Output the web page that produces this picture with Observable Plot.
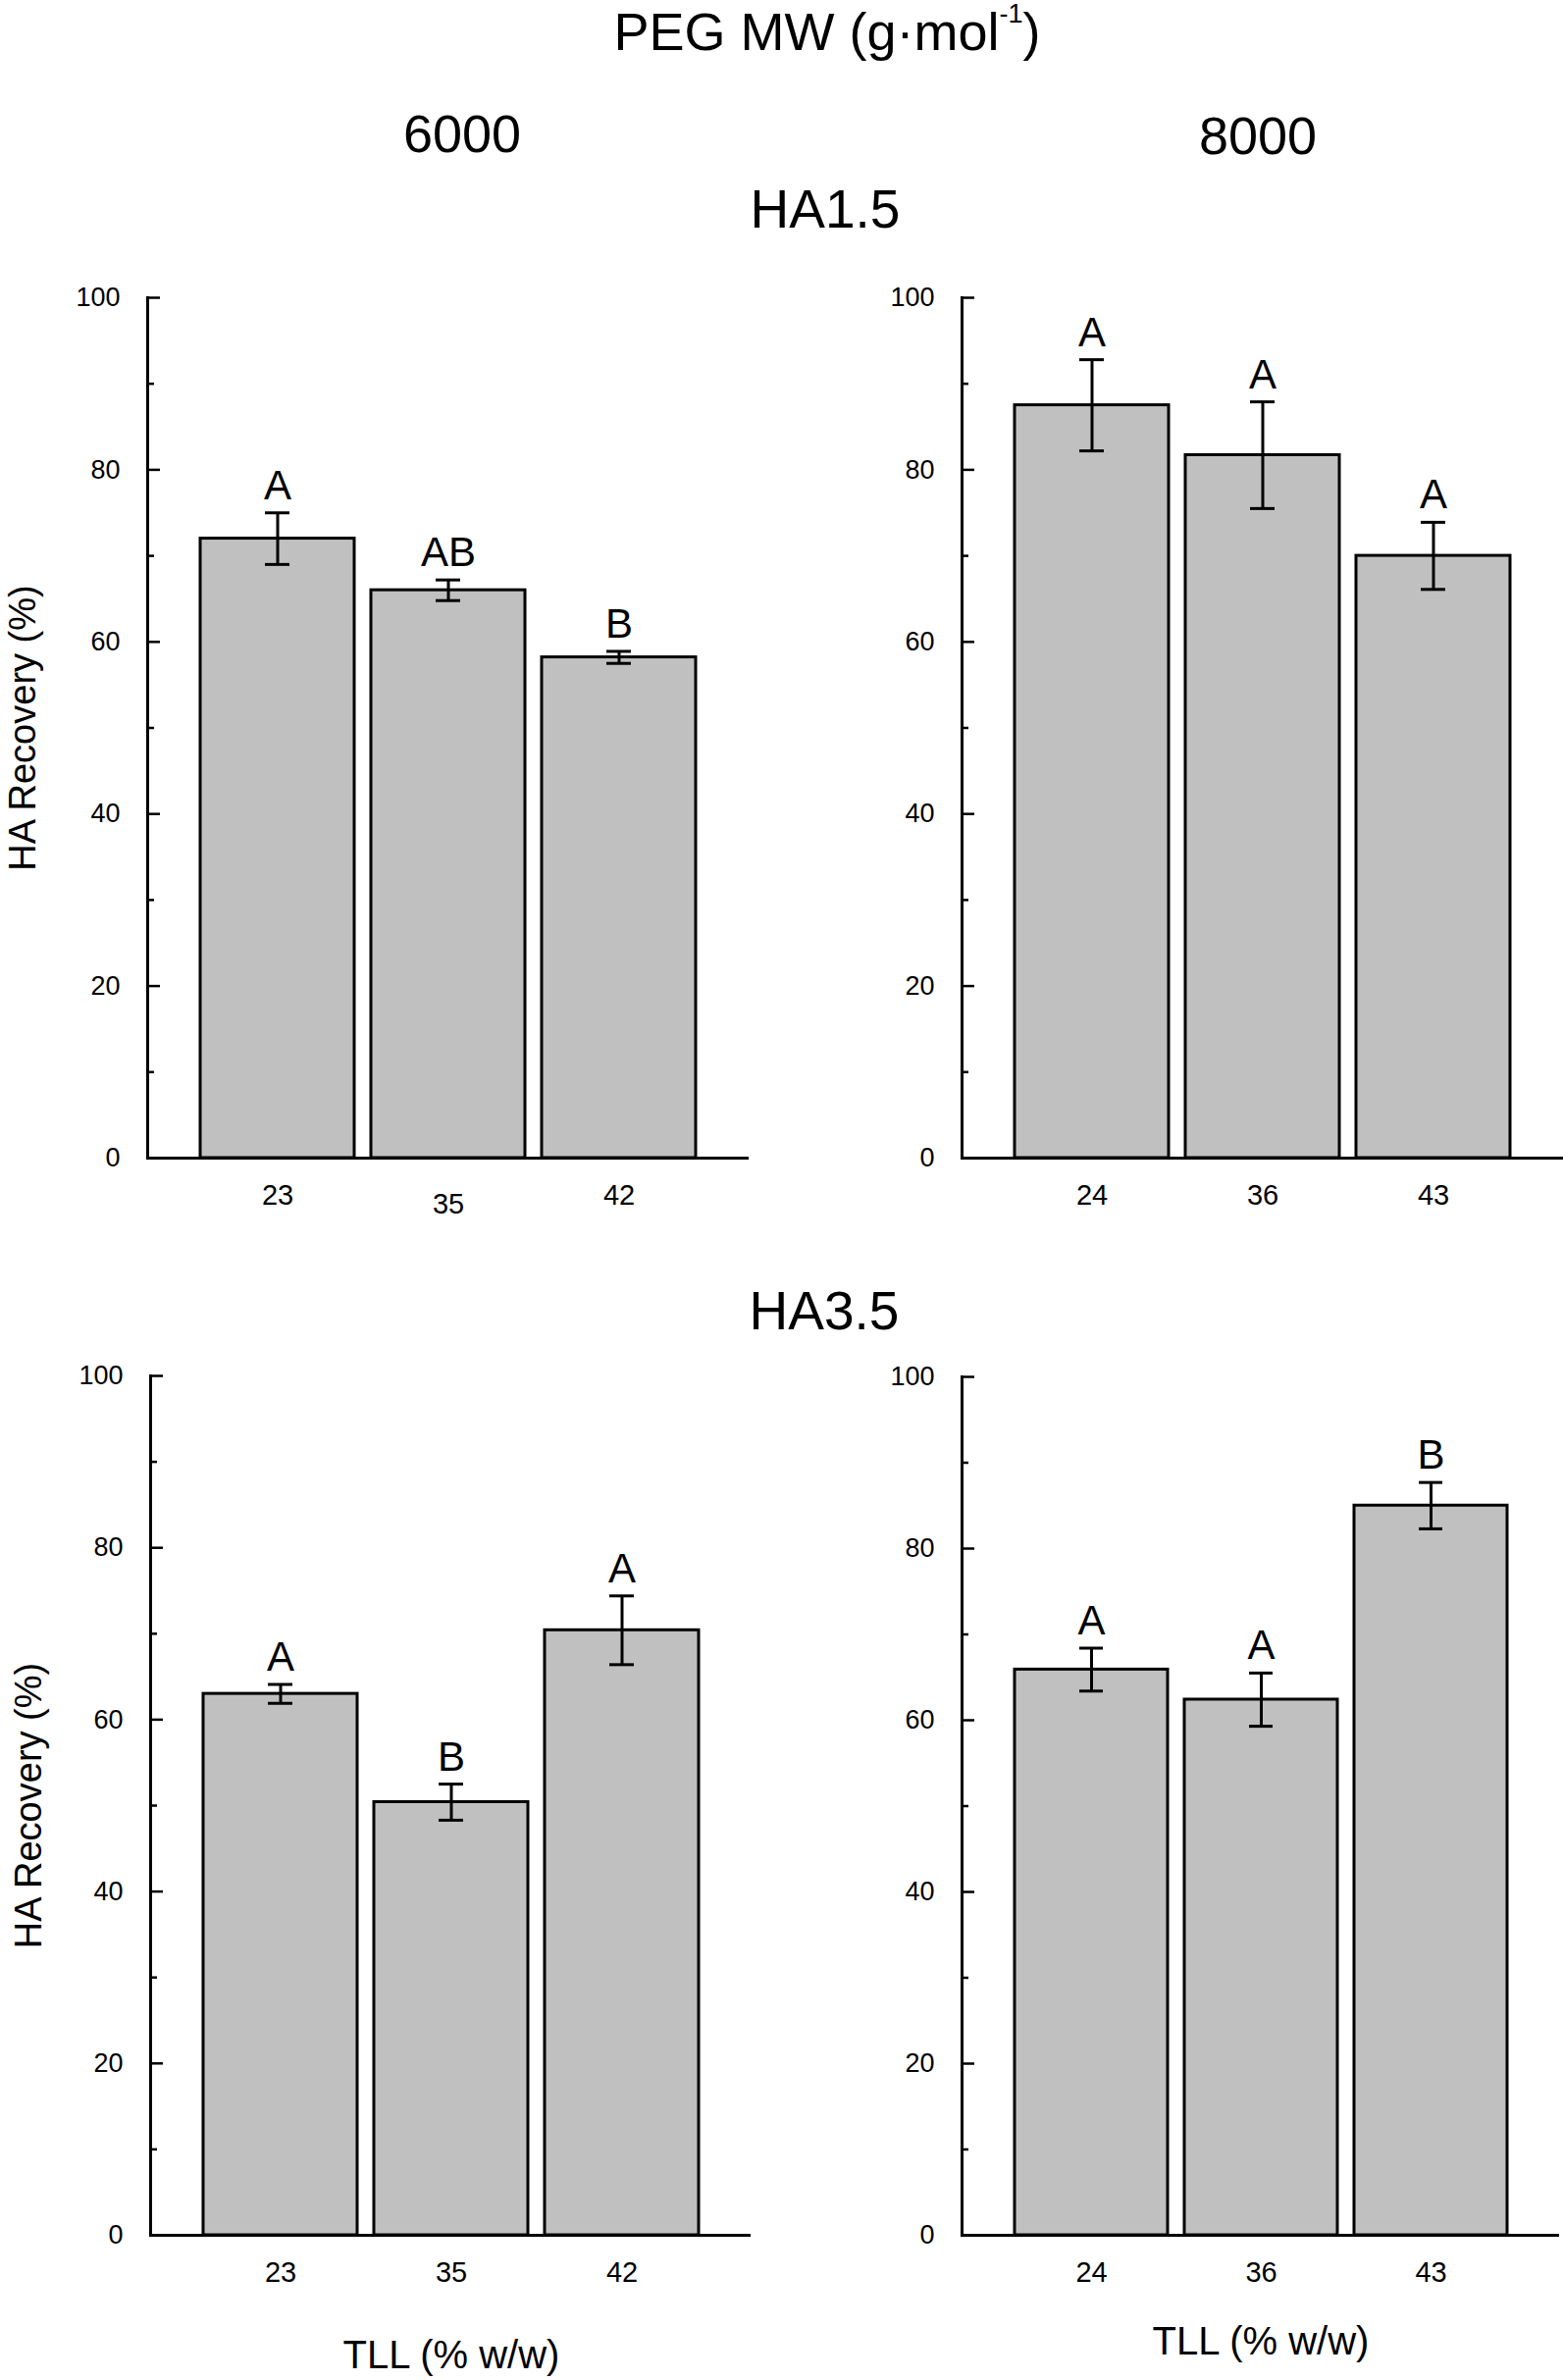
<!DOCTYPE html>
<html>
<head>
<meta charset="utf-8">
<script src="https://cdn.jsdelivr.net/npm/d3@7"></script>
<script src="https://cdn.jsdelivr.net/npm/@observablehq/plot@0.6"></script>
<style>
  html, body { margin: 0; padding: 0; background: white; }
  #page { position: relative; width: 1593px; height: 2426px; font-family: "Liberation Sans", Arial, sans-serif; color: black; }
  .hdr { position: absolute; text-align: center; line-height: 1; white-space: nowrap; }
  .panel { position: absolute; }
</style>
</head>
<body>
<div id="page"></div>
<script>
// ---- data ----
const tll6000 = ["23", "35", "42"];
const tll8000 = ["24", "36", "43"];

const ha15_6000_mean = [72.0, 66.0, 58.2];
const ha15_6000_err = [3.0, 1.2, 0.7];
const ha15_6000_letters = ["A", "AB", "B"];

const ha15_8000_mean = [87.5, 81.7, 70.0];
const ha15_8000_err = [5.3, 6.2, 3.9];
const ha15_8000_letters = ["A", "A", "A"];

const ha35_6000_mean = [63.0, 50.4, 70.4];
const ha35_6000_err = [1.1, 2.1, 4.0];
const ha35_6000_letters = ["A", "B", "A"];

const ha35_8000_mean = [65.9, 62.4, 85.0];
const ha35_8000_err = [2.5, 3.1, 2.7];
const ha35_8000_letters = ["A", "A", "B"];

const yMajorTicks = [0, 20, 40, 60, 80, 100];
const yMinorTicks = [10, 30, 50, 70, 90];
const yLabel = "HA Recovery (%)";
const xLabel = "TLL (% w/w)";

const page = document.getElementById("page");

function panel(o) {
  const data = o.cats.map((c, i) => ({tll: c, mean: o.mean[i], err: o.err[i], letter: o.letters[i]}));
  const marks = [
    Plot.barY(data, {x: "tll", y: "mean", fill: "#c0c0c0", stroke: "black", strokeWidth: 3}),
    Plot.ruleX(data, {x: "tll", y1: d => d.mean - d.err, y2: d => d.mean + d.err, stroke: "black", strokeWidth: 3}),
    Plot.tickY(data, {x: "tll", y: d => d.mean + d.err, insetLeft: 66, insetRight: 66, stroke: "black", strokeWidth: 3}),
    Plot.tickY(data, {x: "tll", y: d => d.mean - d.err, insetLeft: 66, insetRight: 66, stroke: "black", strokeWidth: 3}),
    Plot.text(data, {x: "tll", y: d => d.mean + d.err, text: "letter", lineAnchor: "bottom", dy: -14, fontSize: 42, fill: "black"}),
    Plot.axisY(yMajorTicks, {tickSize: -13, tickPadding: 41, fontSize: 27, strokeWidth: 2.5, label: null}),
    Plot.axisY(yMinorTicks, {tickSize: -7, tickFormat: () => "", strokeWidth: 2.5, label: null}),
    Plot.ruleY([0], {stroke: "black", strokeWidth: 3}),
    Plot.frame({anchor: "left", stroke: "black", strokeWidth: 3})
  ];
  for (const g of o.tickGroups) {
    marks.push(Plot.axisX(g.ticks, {tickSize: 0, tickPadding: g.pad, fontSize: 29, label: null}));
  }
  if (o.ylabelDx != null) {
    marks.push(Plot.text([yLabel], {frameAnchor: "left", textAnchor: "middle", lineAnchor: "middle", rotate: -90, dx: o.ylabelDx, fontSize: 38, fill: "black"}));
  }
  const svg = Plot.plot({
    width: o.width,
    height: o.height,
    marginLeft: o.mLeft,
    marginRight: o.mRight,
    marginTop: o.mTop,
    marginBottom: o.mBottom,
    style: "background: transparent; overflow: visible; max-width: none; color: black; font-family: 'Liberation Sans', Arial, sans-serif;",
    x: {domain: o.cats, paddingInner: 0.1, paddingOuter: 0.3035, label: null},
    y: {domain: [0, 100], label: null},
    marks
  });
  const div = document.createElement("div");
  div.className = "panel";
  div.style.left = o.left + "px";
  div.style.top = o.top + "px";
  div.appendChild(svg);
  page.appendChild(div);
}

// top-left: HA1.5, 6000
panel({cats: tll6000, mean: ha15_6000_mean, err: ha15_6000_err, letters: ha15_6000_letters,
  left: 0, top: 250, width: 790, height: 1000, mLeft: 150, mRight: 27, mTop: 53, mBottom: 70,
  ylabelDx: -127,
  tickGroups: [{ticks: [tll6000[0], tll6000[2]], pad: 27}, {ticks: [tll6000[1]], pad: 36}]});

// top-right: HA1.5, 8000
panel({cats: tll8000, mean: ha15_8000_mean, err: ha15_8000_err, letters: ha15_8000_letters,
  left: 830, top: 250, width: 763, height: 1000, mLeft: 150, mRight: 0, mTop: 53, mBottom: 70,
  ylabelDx: null,
  tickGroups: [{ticks: tll8000, pad: 27}]});

// bottom-left: HA3.5, 6000
panel({cats: tll6000, mean: ha35_6000_mean, err: ha35_6000_err, letters: ha35_6000_letters,
  left: 3, top: 1350, width: 790, height: 1000, mLeft: 150, mRight: 28, mTop: 52, mBottom: 72,
  ylabelDx: -124,
  tickGroups: [{ticks: tll6000, pad: 27}]});

// bottom-right: HA3.5, 8000
panel({cats: tll8000, mean: ha35_8000_mean, err: ha35_8000_err, letters: ha35_8000_letters,
  left: 830, top: 1350, width: 763, height: 1000, mLeft: 150, mRight: 4, mTop: 53, mBottom: 72,
  ylabelDx: null,
  tickGroups: [{ticks: tll8000, pad: 27}]});

// ---- headers / labels (HTML text) ----
function hdr(html, cx, baseline, size) {
  const d = document.createElement("div");
  d.className = "hdr";
  d.style.fontSize = size + "px";
  d.style.left = (cx - 400) + "px";
  d.style.width = "800px";
  d.style.top = (baseline - 0.8465 * size) + "px";
  d.innerHTML = html;
  page.appendChild(d);
}
hdr('PEG MW (g·mol<span style="font-size:27px; vertical-align:28px;">-1</span>)', 843, 47, 54);
hdr("6000", 471, 155, 54);
hdr("8000", 1282, 157, 54);
hdr("HA1.5", 841, 233, 55);
hdr("HA3.5", 840, 1356, 55);
hdr(xLabel, 460, 2414, 40);
hdr(xLabel, 1285, 2400, 40);
</script>
</body>
</html>
